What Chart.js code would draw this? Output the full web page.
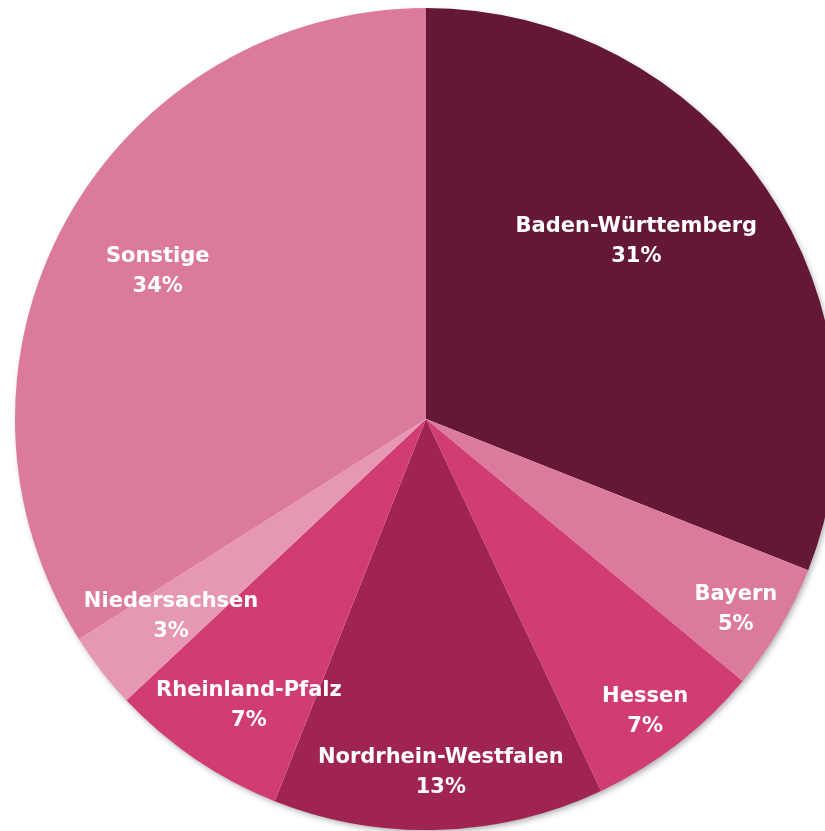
<!DOCTYPE html>
<html>
<head>
<meta charset="utf-8">
<script src="https://cdn.jsdelivr.net/npm/chart.js@4"></script>
<style>
  html, body { margin: 0; padding: 0; background: #fff; overflow: hidden; }
  #wrap { position: absolute; left: 0; top: 0; width: 852px; height: 838px; }
</style>
</head>
<body>
<div id="wrap"><canvas id="pieChart"></canvas></div>
<script>
const states = ["Baden-Württemberg", "Bayern", "Hessen", "Nordrhein-Westfalen", "Rheinland-Pfalz", "Niedersachsen", "Sonstige"];
const shares = [31, 5, 7, 13, 7, 3, 34];
const sliceColors = ["#641835", "#dc7a9c", "#d13c72", "#a02452", "#d13c72", "#e698b2", "#dc7a9c"];

// where each label sits: fraction of the radius, and a small turn in degrees
const labelRadius = [0.67, 0.885, 0.89, 0.86, 0.82, 0.785, 0.745];
const labelTurn = [-6, 1, 1, -0.6, -2.5, 0, 0];

// soft shadow under the whole pie
const pieShadow = {
    id: "pieShadow",
    beforeDatasetsDraw(chart) {
        const arc = chart.getDatasetMeta(0).data[0];
        if (!arc) return;
        const ctx = chart.ctx;
        ctx.save();
        ctx.shadowColor = "rgba(0,0,0,0.35)";
        ctx.shadowBlur = 6;
        ctx.shadowOffsetX = 2;
        ctx.shadowOffsetY = 3;
        ctx.fillStyle = "#ffffff";
        ctx.beginPath();
        ctx.arc(arc.x, arc.y, arc.outerRadius - 1, 0, Math.PI * 2);
        ctx.fill();
        ctx.restore();
    }
};

// name + percent inside each slice
const sliceLabels = {
    id: "sliceLabels",
    afterDatasetsDraw(chart) {
        const ctx = chart.ctx;
        const meta = chart.getDatasetMeta(0);
        ctx.save();
        ctx.fillStyle = "#ffffff";
        ctx.textAlign = "center";
        ctx.textBaseline = "middle";
        ctx.font = "bold 21px 'DejaVu Sans', sans-serif";
        meta.data.forEach((arc, i) => {
            const mid = (arc.startAngle + arc.endAngle) / 2 + labelTurn[i] * Math.PI / 180;
            const r = arc.outerRadius * labelRadius[i];
            const x = arc.x + Math.cos(mid) * r;
            const y = arc.y + Math.sin(mid) * r;
            ctx.fillText(states[i], x, y - 15);
            ctx.fillText(shares[i] + "%", x, y + 15);
        });
        ctx.restore();
    }
};

document.addEventListener("DOMContentLoaded", function() {
    const ctx = document.getElementById("pieChart").getContext("2d");
    new Chart(ctx, {
        type: "pie",
        data: {
            labels: states,
            datasets: [{
                data: shares,
                backgroundColor: sliceColors,
                borderWidth: 0
            }]
        },
        options: {
            responsive: true,
            maintainAspectRatio: false,
            animation: false,
            layout: { padding: 8 },
            plugins: {
                legend: { display: false },
                tooltip: { enabled: false }
            }
        },
        plugins: [pieShadow, sliceLabels]
    });
});
</script>
</body>
</html>
